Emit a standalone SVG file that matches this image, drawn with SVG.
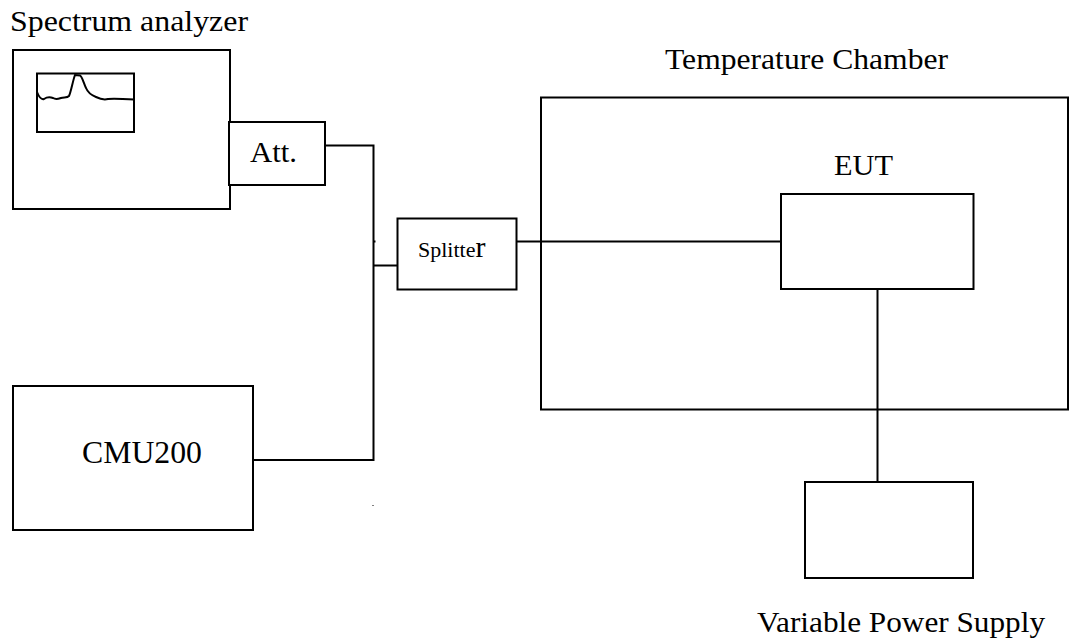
<svg xmlns="http://www.w3.org/2000/svg" width="1069" height="640" viewBox="0 0 1069 640">
<style>
.box{fill:#fff;stroke:#000;stroke-width:2}
.frame{fill:none;stroke:#000;stroke-width:2}
.ln{fill:none;stroke:#000;stroke-width:2}
.t{font-family:"Liberation Serif","Times New Roman",serif;fill:#000}
</style>
<rect width="1069" height="640" fill="#fff"/>
<g id="temperature-chamber">
<rect class="frame" x="541" y="97.5" width="527" height="312"/>
<text class="t" x="665" y="69" font-size="30" textLength="283" lengthAdjust="spacingAndGlyphs">Temperature Chamber</text>
</g>
<g id="connectors">
<polyline class="ln" points="325,145.5 373.5,145.5 373.5,460 253,460"/>
<line class="ln" x1="373.5" y1="265.5" x2="397" y2="265.5"/>
<line class="ln" x1="373.5" y1="241.5" x2="375.5" y2="241.5" stroke-width="1"/>
<line class="ln" x1="517" y1="241.5" x2="781" y2="241.5"/>
<line class="ln" x1="877.5" y1="289" x2="877.5" y2="482"/>
<rect x="372.5" y="505" width="1" height="1" fill="#000"/>
</g>
<g id="spectrum-analyzer">
<rect class="box" x="13" y="50" width="217" height="159"/>
<rect class="box" x="37" y="73.5" width="97" height="58.5"/>
<path class="ln" d="M37,92 C39,97 41,100 44,99 C47,97 50,97 53,98 C56,100 58,99 61,98 C64,97 67,98 69,96 C71,92 73,80 75,75 L80,75.5 C82,76 84,84 86,88 C88,93 91,95 96,97 C100,99 104,100 108,99 C114,98 120,99 134,99.5"/>
<text class="t" x="10" y="31" font-size="30" textLength="238" lengthAdjust="spacingAndGlyphs">Spectrum analyzer</text>
</g>
<g id="att">
<rect class="box" x="229" y="122" width="96" height="63"/>
<text class="t" x="250" y="162" font-size="30" textLength="47" lengthAdjust="spacingAndGlyphs">Att.</text>
</g>
<g id="splitter">
<rect class="box" x="397.5" y="218.5" width="119" height="71"/>
<text class="t" x="418" y="257" font-size="22">Splitte<tspan font-size="30">r</tspan></text>
</g>
<g id="cmu200">
<rect class="box" x="13" y="386" width="240" height="144"/>
<text class="t" x="82" y="463" font-size="31" textLength="120" lengthAdjust="spacingAndGlyphs">CMU200</text>
</g>
<g id="eut">
<rect class="box" x="781" y="194" width="192.5" height="95"/>
<text class="t" x="834" y="175" font-size="30" textLength="59" lengthAdjust="spacingAndGlyphs">EUT</text>
</g>
<g id="power-supply">
<rect class="box" x="805" y="482" width="168" height="96"/>
<text class="t" x="757" y="632" font-size="30" textLength="288" lengthAdjust="spacingAndGlyphs">Variable Power Supply</text>
</g>
</svg>
